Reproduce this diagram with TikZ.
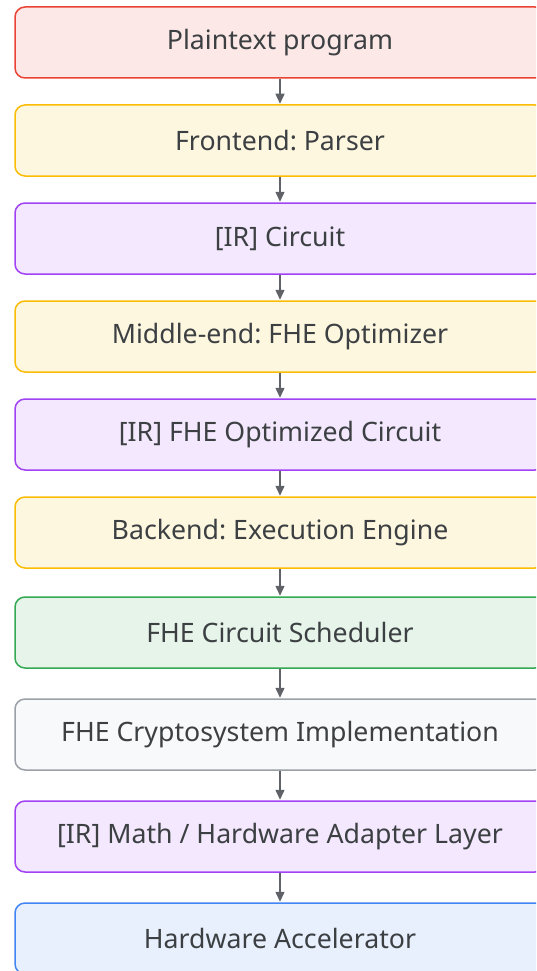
\documentclass[tikz,border=0pt]{standalone}
\usepackage{fontspec}
\setmainfont{Noto Sans}
\usetikzlibrary{arrows.meta}
\frenchspacing
\definecolor{txt}{HTML}{3C4043}
\definecolor{arr}{HTML}{5F6368}
\definecolor{redF}{HTML}{FCE8E6}\definecolor{redD}{HTML}{EA4335}
\definecolor{yelF}{HTML}{FEF7E0}\definecolor{yelD}{HTML}{FBBC04}
\definecolor{purF}{HTML}{F3E8FD}\definecolor{purD}{HTML}{A142F4}
\definecolor{grnF}{HTML}{E6F4EA}\definecolor{grnD}{HTML}{34A853}
\definecolor{gryF}{HTML}{F8F9FA}\definecolor{gryD}{HTML}{9AA0A6}
\definecolor{bluF}{HTML}{E8F0FE}\definecolor{bluD}{HTML}{4285F4}
\tikzset{
  box/.style={rounded corners=10pt, line width=1.5pt, minimum width=530pt,
    minimum height=71pt, inner sep=0pt, text=txt,
    font=\fontsize{26.7}{29}\selectfont},
  redbox/.style={box, fill=redF, draw=redD},
  yelbox/.style={box, fill=yelF, draw=yelD},
  purbox/.style={box, fill=purF, draw=purD},
  grnbox/.style={box, fill=grnF, draw=grnD},
  grybox/.style={box, fill=gryF, draw=gryD},
  blubox/.style={box, fill=bluF, draw=bluD},
  flow/.style={draw=arr, line width=1.4pt, -{Triangle[length=10pt,width=9pt]}, shorten >=0.5pt}
}
\begin{document}
\begin{tikzpicture}[x=1pt,y=-1pt]
\useasboundingbox (0,0) rectangle (536,971);
\clip (0,0) rectangle (536,971);
\fill[white] (0,0) rectangle (536,971);
\node[redbox] (n1) at (280,42.5) {Plaintext program};
\node[yelbox] (n2) at (280,140.5) {Frontend: Parser};
\node[purbox] (n3) at (280,238.5) {[IR] Circuit};
\node[yelbox] (n4) at (280,336.5) {Middle-end: FHE Optimizer};
\node[purbox] (n5) at (280,434.5) {[IR] FHE Optimized Circuit};
\node[yelbox] (n6) at (280,532.5) {Backend: Execution Engine};
\node[grnbox] (n7) at (280,632.5) {FHE Circuit Scheduler};
\node[grybox] (n8) at (280,734.5) {FHE Cryptosystem Implementation};
\node[purbox] (n9) at (280,836.5) {[IR] Math / Hardware Adapter Layer};
\node[blubox] (n10) at (280,938.5) {Hardware Accelerator};
\foreach \a/\b in {n1/n2,n2/n3,n3/n4,n4/n5,n5/n6,n6/n7,n7/n8,n8/n9,n9/n10}
  \draw[flow] (\a.south) -- (\b.north);
\end{tikzpicture}
\end{document}
